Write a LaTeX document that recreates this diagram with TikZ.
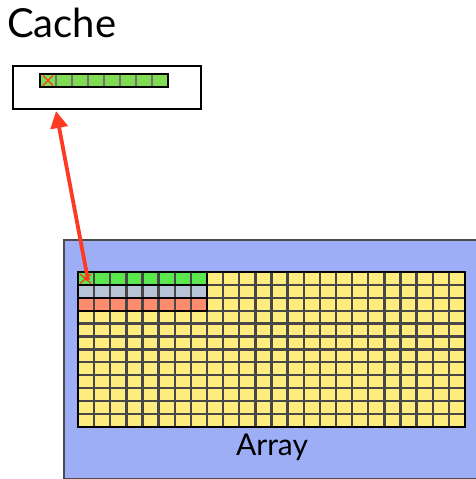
\documentclass[tikz,border=0pt]{standalone}
\usepackage{fontspec}
\setmainfont{Lato}
\usetikzlibrary{arrows.meta}
\definecolor{arrayblue}{HTML}{9DAEF7}
\definecolor{cellyellow}{HTML}{FFEC7E}
\definecolor{linegreen}{HTML}{5BE84E}
\definecolor{cachegreen}{HTML}{80DC52}
\definecolor{linegray}{HTML}{B9C3D6}
\definecolor{linesalmon}{HTML}{FF8C6E}
\definecolor{hitred}{HTML}{FF3A22}
\tikzset{
  gridline/.style={draw=black!72, line width=2.3pt},
  stripframe/.style={draw=black, line width=2pt},
  xmark/.style={draw=hitred, line width=1.3pt},
  fetch/.style={draw=hitred, line width=3.8pt, -{Triangle[length=17pt,width=17pt]}},
}
\begin{document}
\begin{tikzpicture}[x=1pt,y=-1pt]
\useasboundingbox (0,0) rectangle (475,479);

% title
\node[anchor=base west, inner sep=0, font=\fontsize{40}{40}\selectfont] (title) at (7,37) {Cache};

% cache box with one line of eight words
\node[draw=black, line width=2pt, minimum width=188pt, minimum height=43pt, inner sep=0, anchor=north west] (cachebox) at (12,65) {};
\fill[cachegreen] (40,74) rectangle (168,87);
\foreach \i in {1,...,7} \draw[draw=black!55, line width=1.6pt] (40+16*\i,74) -- (40+16*\i,87);
\draw[stripframe] (40,74) rectangle (168,87);
\draw[xmark] (43,75.5) -- (53,85.5) (43,85.5) -- (53,75.5);

% array region
\node[draw=black!70, line width=1.6pt, fill=arrayblue, minimum width=420pt, minimum height=239pt, inner sep=0, anchor=north west] (arraybox) at (63,239) {};
\node[font=\fontsize{30}{30}\selectfont, inner sep=0] (arraylabel) at (272,447) {Array};

% grid: 24 columns x 12 rows
\def\cw{16.125}
\def\rh{12.9}
\fill[cellyellow] (78,272) rectangle (465,427);
\fill[linegreen] (78,272) rectangle (78+8*\cw,272+\rh);
\fill[linegray] (78,272+\rh) rectangle (78+8*\cw,272+2*\rh);
\fill[linesalmon] (78,272+2*\rh) rectangle (78+8*\cw,272+3*\rh);
\foreach \i in {1,...,23} \draw[gridline] (78+\i*\cw,272) -- (78+\i*\cw,427);
\foreach \j in {1,...,11} \draw[gridline] (78,272+\j*\rh) -- (465,272+\j*\rh);
\foreach \j in {0,1,2} \draw[stripframe] (78,272+\j*\rh) rectangle (78+8*\cw,272+\j*\rh+\rh);
\draw[line width=2.2pt] (78,272) rectangle (465,427);
\draw[xmark] (80,274) -- (91,283.5) (80,283.5) -- (91,274);

% fetch of the line into the cache
\coordinate (src) at (88,280);
\coordinate (dst) at (56,111);
\draw[fetch] (src) -- (dst);
\end{tikzpicture}
\end{document}
